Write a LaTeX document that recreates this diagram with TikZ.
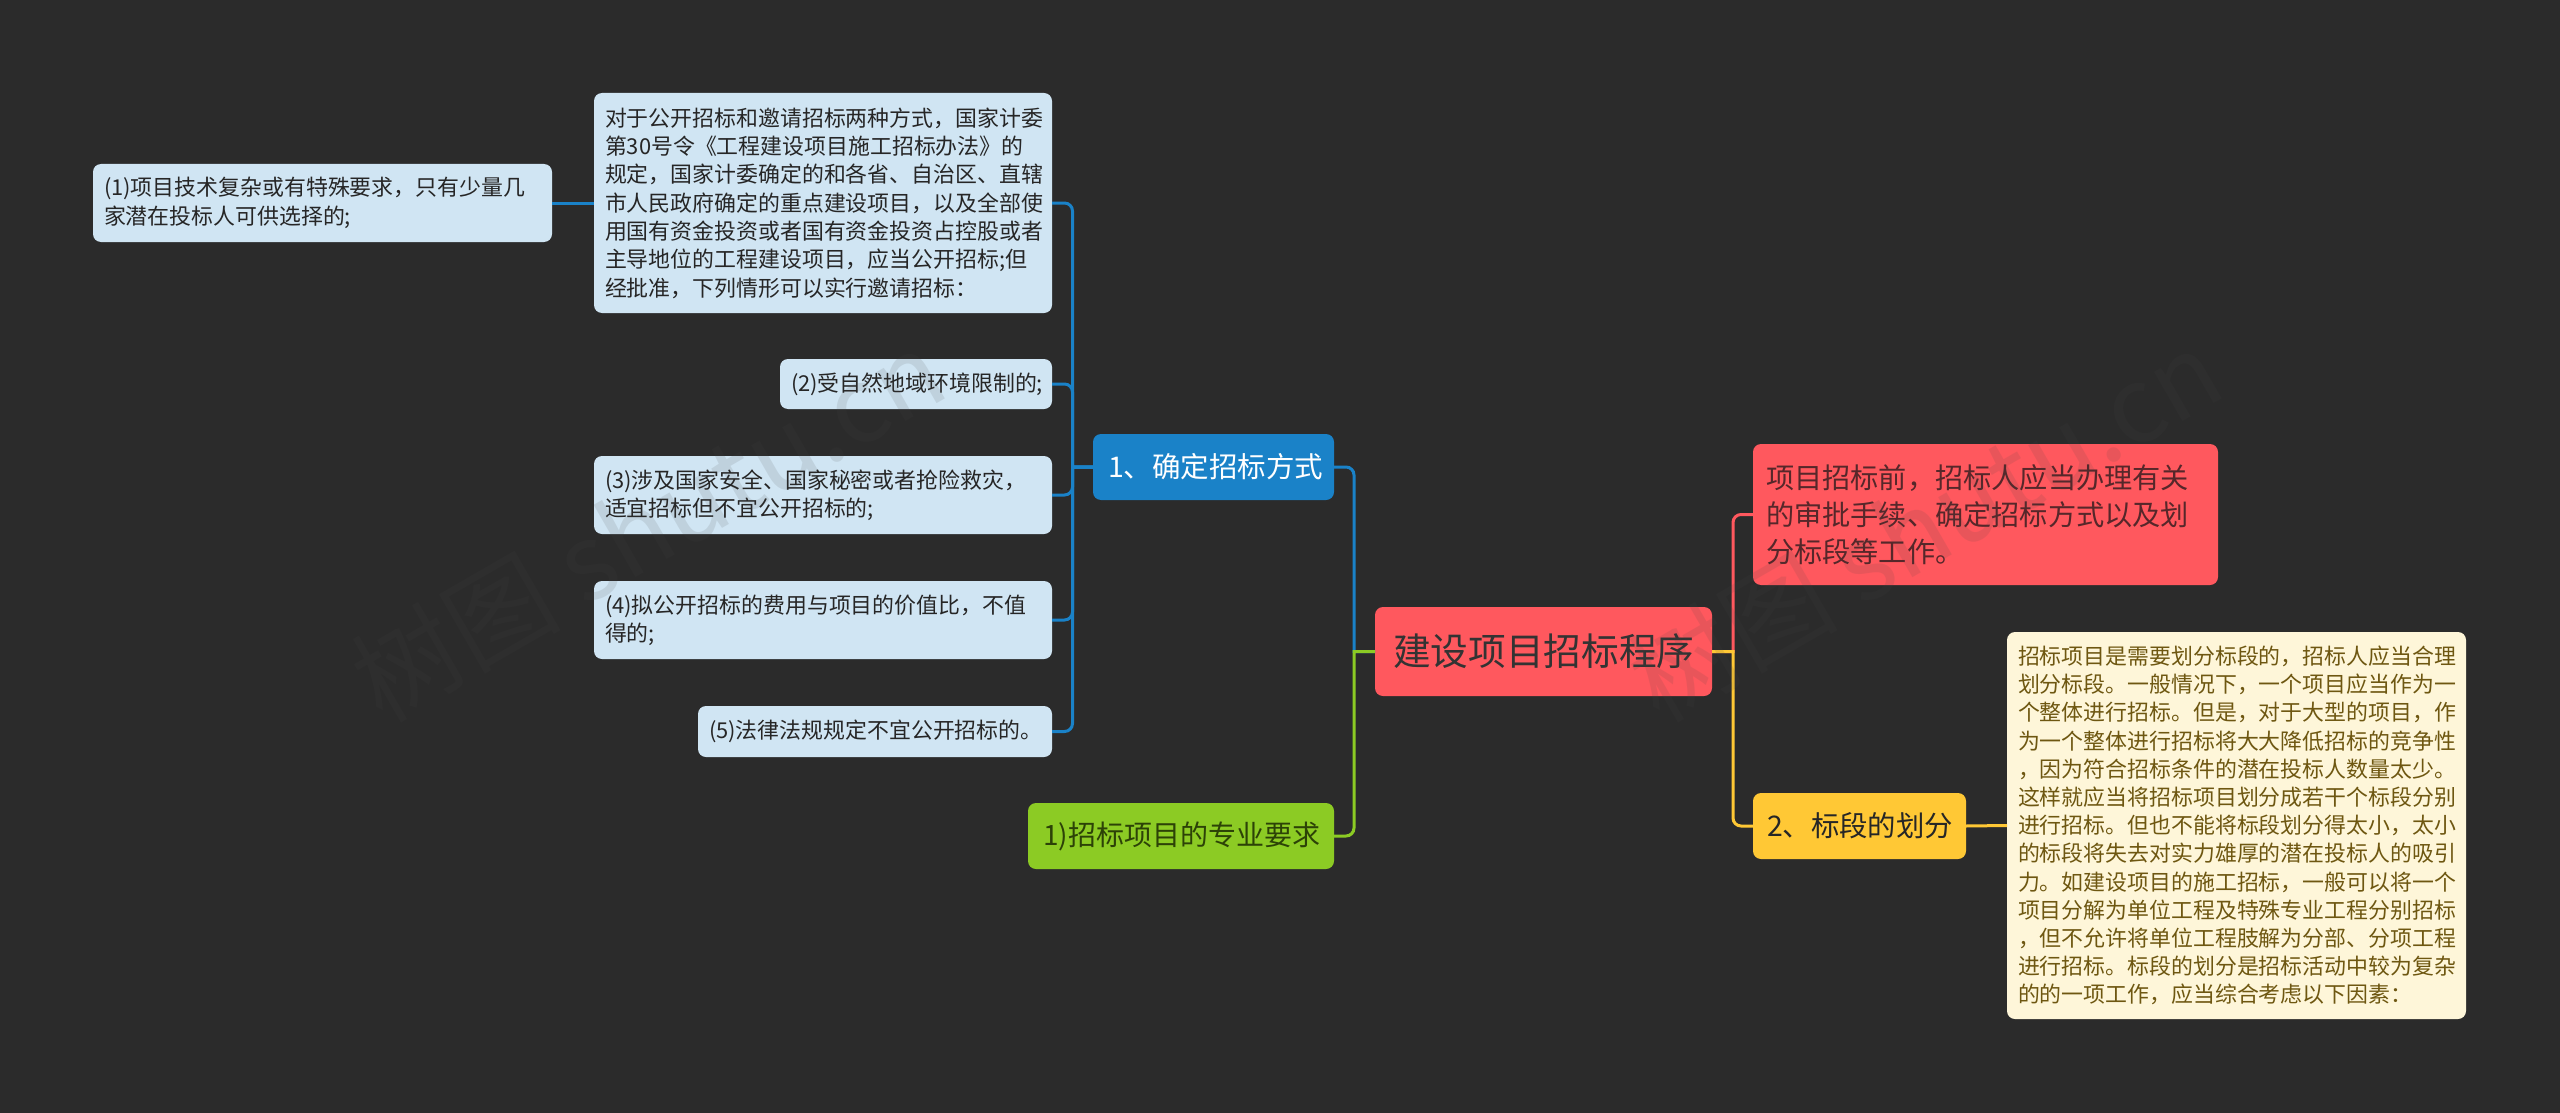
\documentclass[tikz,border=0pt]{standalone}
\usepackage{fontspec}
\setmainfont{Noto Sans CJK SC}
\definecolor{pageBg}{HTML}{2B2B2B}
\definecolor{rootRed}{HTML}{FF585E}
\definecolor{methodBlue}{HTML}{1A82C8}
\definecolor{leafBlue}{HTML}{D0E5F3}
\definecolor{specGreen}{HTML}{8CCB24}
\definecolor{sectGold}{HTML}{FFC835}
\definecolor{noteCream}{HTML}{FEF6D9}
\definecolor{noteInk}{HTML}{6E5711}
\definecolor{introInk}{HTML}{56272A}
\definecolor{specInk}{HTML}{2C4207}
\newcommand\DrawBox[7]{
	\node [#2, minimum width={(#5-#3)*1pt}, minimum height={(#6-#4)*1pt}, text width={(#5-#3)*1pt-2*\pgfkeysvalueof{/pgf/inner xsep}}] (#1) at ({(#3+#5)/2},{(#4+#6)/2}){#7};
}
\tikzset{
	box/.style={rounded corners=8pt, inner ysep=0pt, outer sep=0pt, align=left},
	leaf/.style={box, fill=leafBlue, text=black!85, inner xsep=11pt, font=\fontsize{21.9}{28.3}\selectfont},
	rootbox/.style={box, fill=rootRed, text=black!80, inner xsep=18pt, font=\fontsize{37.7}{45}\selectfont},
	method/.style={box, fill=methodBlue, text=white, inner xsep=15pt, font=\fontsize{28.5}{37}\selectfont},
	spec/.style={box, fill=specGreen, text=specInk, inner xsep=15pt, font=\fontsize{28}{37}\selectfont},
	intro/.style={box, fill=rootRed, text=introInk, inner xsep=13pt, font=\fontsize{28.2}{37}\selectfont},
	sect/.style={box, fill=sectGold, text=black!85, inner xsep=14pt, font=\fontsize{28.4}{37}\selectfont},
	note/.style={box, fill=noteCream, text=noteInk, inner xsep=11pt, font=\fontsize{21.9}{28.2}\selectfont},
	link/.style={line width=3pt},
	wmark/.style={rotate=30, text=black!73, opacity=0.12, font=\fontsize{105}{105}\selectfont},
}

\begin{document}
\begin{tikzpicture}[x=1pt, y=-1pt]
	\fill[pageBg] (0,0) rectangle (2560,1113);
	\useasboundingbox (0,0) rectangle (2560,1113);
	\DrawBox{nRoot}{rootbox}{1375}{607}{1712}{696}{建设项目招标程序}
	\DrawBox{nMethod}{method}{1093}{434}{1334}{500}{1、确定招标方式}
	\DrawBox{nSpec}{spec}{1028}{803}{1334}{869}{1)招标项目的专业要求}
	\DrawBox{nIntro}{intro}{1753}{444}{2218}{585}{项目招标前，招标人应当办理有关\\的审批手续、确定招标方式以及划\\分标段等工作。}
	\DrawBox{nSect}{sect}{1753}{793}{1966}{859}{2、标段的划分}
	\DrawBox{nOpen}{leaf}{594}{93}{1052}{313}{对于公开招标和邀请招标两种方式，国家计委\\第30号令《工程建设项目施工招标办法》的\\规定，国家计委确定的和各省、自治区、直辖\\市人民政府确定的重点建设项目，以及全部使\\用国有资金投资或者国有资金投资占控股或者\\主导地位的工程建设项目，应当公开招标;但\\经批准，下列情形可以实行邀请招标：}
	\DrawBox{nCaseA}{leaf}{93}{164}{552}{242}{(1)项目技术复杂或有特殊要求，只有少量几\\家潜在投标人可供选择的;}
	\DrawBox{nCaseB}{leaf}{780}{359}{1052}{409}{(2)受自然地域环境限制的;}
	\DrawBox{nCaseC}{leaf}{594}{456}{1052}{534}{(3)涉及国家安全、国家秘密或者抢险救灾，\\适宜招标但不宜公开招标的;}
	\DrawBox{nCaseD}{leaf}{594}{581}{1052}{659}{(4)拟公开招标的费用与项目的价值比，不值\\得的;}
	\DrawBox{nCaseE}{leaf}{698}{706}{1052}{757}{(5)法律法规规定不宜公开招标的。}
	\DrawBox{nNote}{note}{2007}{632}{2466}{1019}{招标项目是需要划分标段的，招标人应当合理\\划分标段。一般情况下，一个项目应当作为一\\个整体进行招标。但是，对于大型的项目，作\\为一个整体进行招标将大大降低招标的竞争性\\，因为符合招标条件的潜在投标人数量太少。\\这样就应当将招标项目划分成若干个标段分别\\进行招标。但也不能将标段划分得太小，太小\\的标段将失去对实力雄厚的潜在投标人的吸引\\力。如建设项目的施工招标，一般可以将一个\\项目分解为单位工程及特殊专业工程分别招标\\，但不允许将单位工程肢解为分部、分项工程\\进行招标。标段的划分是招标活动中较为复杂\\的的一项工作，应当综合考虑以下因素：}
	\foreach \n in {nOpen,nCaseB,nCaseC,nCaseD,nCaseE}
	{
		\draw[link, methodBlue] (nMethod.west) -- ++(-20.5,0) [rounded corners=8pt] |- (\n.east);
	}
	\draw[link, methodBlue] (nCaseA.east) -- (nOpen.west);
	\draw[link, methodBlue] (nRoot.west) -- ++(-21,0) [rounded corners=8pt] |- (nMethod.east);
	\draw[link, specGreen] (nRoot.west) -- ++(-21,0) [rounded corners=8pt] |- (nSpec.east);
	\draw[link, rootRed] (nRoot.east) -- ++(21,0) [rounded corners=8pt] |- (nIntro.west);
	\draw[link, sectGold] (nRoot.east) -- ++(21,0) [rounded corners=8pt] |- (nSect.west);
	\draw[link, sectGold] (nSect.east) -- (nNote.west);
	\node[wmark] (nMarkA) at (648,525){树图 shutu.cn};
	\node[wmark] (nMarkB) at (1925,525){树图 shutu.cn};
\end{tikzpicture}
\end{document}
